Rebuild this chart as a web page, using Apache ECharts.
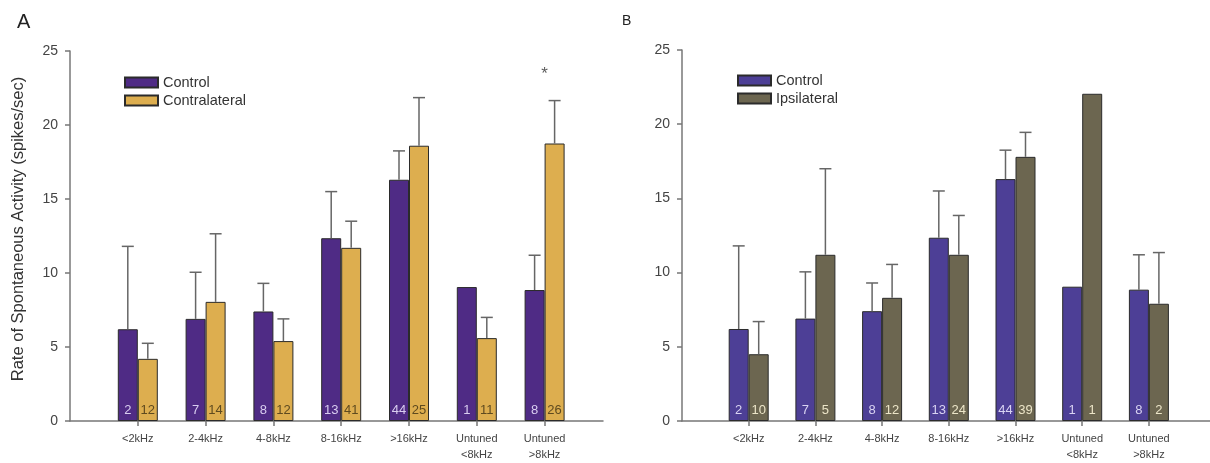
<!DOCTYPE html>
<html><head><meta charset="utf-8">
<script src="https://cdn.jsdelivr.net/npm/echarts@6/dist/echarts.min.js"></script>
<style>html,body{margin:0;padding:0;background:#fff}#c{width:1210px;height:463px}</style>
</head><body><div id="c"></div>
<script>
const categories = ['<2kHz','2-4kHz','4-8kHz','8-16kHz','>16kHz','Untuned\n<8kHz','Untuned\n>8kHz'];
const yTicks = [0,5,10,15,20,25];
// Panel A
const controlA = [6.2, 6.9, 7.4, 12.35, 16.3, 9.05, 8.85];
const controlAErr = [11.8, 10.05, 9.3, 15.5, 18.25, null, 11.2];
const controlN = [2, 7, 8, 13, 44, 1, 8];
const contraA = [4.2, 8.05, 5.4, 11.7, 18.6, 5.6, 18.75];
const contraAErr = [5.25, 12.65, 6.9, 13.5, 21.85, 7.0, 21.65];
const contraN = [12, 14, 12, 41, 25, 11, 26];
const sigA = [[7, 23.4]];
// Panel B
const controlB = [6.2, 6.9, 7.4, 12.35, 16.3, 9.05, 8.85];
const controlBErr = [11.8, 10.05, 9.3, 15.5, 18.25, null, 11.2];
const controlBN = [2, 7, 8, 13, 44, 1, 8];
const ipsiB = [4.5, 11.2, 8.3, 11.2, 17.8, 22.05, 7.9];
const ipsiBErr = [6.7, 17.0, 10.55, 13.85, 19.45, null, 11.35];
const ipsiN = [10, 5, 12, 24, 39, 1, 2];

const FONT = 'Liberation Sans, Arial, sans-serif';
const BAR_W = 20;
const C_PURPLE_A = '#4f2b85', C_PURPLE_B = '#4d3f96', C_GOLD = '#ddae4f', C_OLIVE = '#6c6650';

const pts = arr => arr.map((v, i) => [i + 1, v]);
const errPts = (m, e) => m.map((v, i) => [i + 1, v, e[i] == null ? NaN : e[i]]);

function barSeries(name, idx, vals, counts, color, labelColor) {
  return {
    type: 'bar', name, xAxisIndex: idx, yAxisIndex: idx,
    data: pts(vals), barWidth: BAR_W, barGap: '0%',
    itemStyle: { color, borderColor: '#2b2b2b', borderWidth: 1 },
    label: { show: true, position: 'insideBottom', distance: 4,
      formatter: p => String(counts[p.dataIndex]),
      color: labelColor, fontSize: 13, fontFamily: FONT },
    emphasis: { disabled: true }, z: 2
  };
}
function errSeries(idx, vals, errs, dir) {
  return {
    type: 'custom', xAxisIndex: idx, yAxisIndex: idx, z: 3, silent: true,
    data: errPts(vals, errs),
    renderItem: (params, api) => {
      const e = api.value(2);
      if (isNaN(e)) return null;
      const p0 = api.coord([api.value(0), api.value(1)]);
      const p1 = api.coord([api.value(0), e]);
      const cx = p0[0] + dir * BAR_W / 2;
      const st = { stroke: '#666', lineWidth: 1.5 };
      return { type: 'group', children: [
        { type: 'line', shape: { x1: cx, y1: p0[1], x2: cx, y2: p1[1] }, style: st },
        { type: 'line', shape: { x1: cx - 6, y1: p1[1], x2: cx + 6, y2: p1[1] }, style: st }
      ]};
    }
  };
}
function xAxis(idx, max) {
  return {
    type: 'value', gridIndex: idx, min: 0, max, interval: 1,
    splitLine: { show: false },
    axisLine: { show: true, lineStyle: { color: '#777', width: 1.5 } },
    axisTick: { show: true, customValues: [1,2,3,4,5,6,7], length: 5, lineStyle: { color: '#777', width: 1.5 } },
    axisLabel: { customValues: [1,2,3,4,5,6,7], formatter: v => categories[Math.round(v) - 1] || '',
      color: '#444', fontSize: 11, fontFamily: FONT, margin: 10, lineHeight: 16 }
  };
}
function yAxis(idx, name) {
  return {
    type: 'value', gridIndex: idx, min: 0, max: 25, interval: 5,
    name, nameLocation: 'middle', nameGap: 43,
    nameTextStyle: { color: '#333', fontSize: 16.5, fontFamily: FONT, padding: [0, 0, 0, 14] },
    splitLine: { show: false },
    axisLine: { show: true, lineStyle: { color: '#777', width: 1.5 } },
    axisTick: { show: true, length: 5, lineStyle: { color: '#777', width: 1.5 } },
    axisLabel: { color: '#444', fontSize: 14, fontFamily: FONT, margin: 12,
      formatter: v => yTicks.includes(v) ? String(v) : '' }
  };
}

const chart = echarts.init(document.getElementById('c'), null, { renderer: 'canvas' });
chart.setOption({
  animation: false,
  backgroundColor: '#fff',
  title: [
    { text: 'A', left: 12, top: 7, textStyle: { fontSize: 20, fontWeight: 'normal', color: '#222', fontFamily: FONT } },
    { text: 'B', left: 617, top: 9, textStyle: { fontSize: 14, fontWeight: 'normal', color: '#222', fontFamily: FONT } }
  ],
  grid: [
    { left: 70, top: 51, width: 533, height: 373 },
    { left: 682, top: 50, width: 528, height: 372 }
  ],
  xAxis: [xAxis(0, 533 / 67.8), xAxis(1, 528 / 66.7)],
  yAxis: [yAxis(0, 'Rate of Spontaneous Activity (spikes/sec)'), yAxis(1, '')],
  legend: [
    { left: 119, top: 70, orient: 'vertical', itemWidth: 33, itemHeight: 10, itemGap: 3,
      data: ['Control', 'Contralateral'], icon: 'rect', selectedMode: false,
      textStyle: { fontSize: 14.5, color: '#333', fontFamily: FONT } },
    { left: 732, top: 68, orient: 'vertical', itemWidth: 33, itemHeight: 10, itemGap: 3,
      data: ['Control (B)', 'Ipsilateral'], icon: 'rect', selectedMode: false,
      formatter: n => n.replace(' (B)', ''),
      textStyle: { fontSize: 14.5, color: '#333', fontFamily: FONT } }
  ],
  series: [
    barSeries('Control', 0, controlA, controlN, C_PURPLE_A, '#d9cdf0'),
    barSeries('Contralateral', 0, contraA, contraN, C_GOLD, '#5e4a1f'),
    errSeries(0, controlA, controlAErr, -1),
    errSeries(0, contraA, contraAErr, 1),
    { type: 'scatter', xAxisIndex: 0, yAxisIndex: 0, data: sigA, symbolSize: 0, silent: true,
      label: { show: true, position: 'inside', formatter: '*', fontSize: 17, color: '#333', fontFamily: FONT } },
    barSeries('Control (B)', 1, controlB, controlBN, C_PURPLE_B, '#d9d3f2'),
    barSeries('Ipsilateral', 1, ipsiB, ipsiN, C_OLIVE, '#ece5c8'),
    errSeries(1, controlB, controlBErr, -1),
    errSeries(1, ipsiB, ipsiBErr, 1)
  ]
});
</script></body></html>
